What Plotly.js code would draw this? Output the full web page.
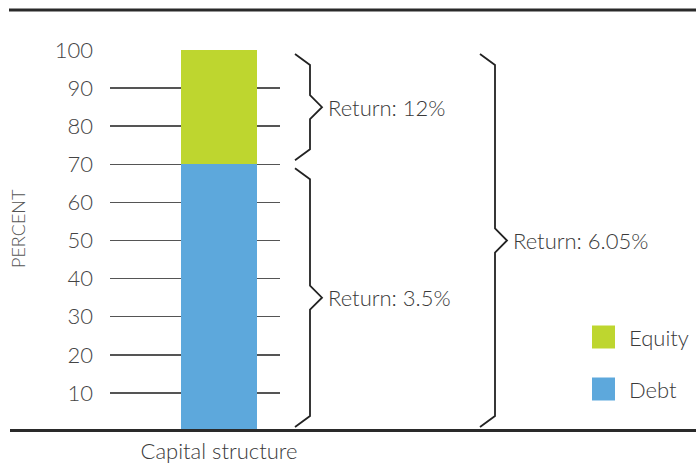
<!DOCTYPE html>
<html>
<head>
<meta charset="utf-8">
<script src="https://cdn.plot.ly/plotly-3.0.1.min.js"></script>
<style>html,body{margin:0;padding:0;background:#fff;}#chart{width:696px;height:465px;}</style>
</head>
<body>
<div id="chart"></div>
<script>
// ---- data ----
var category = ['Capital structure'];
var seriesNames = ['Debt', 'Equity'];
var debtValues = [70];
var equityValues = [30];
var returnLabels = ['Return: 3.5%', 'Return: 12%', 'Return: 6.05%'];
var yTicks = [10, 20, 30, 40, 50, 60, 70, 80, 90, 100];

// ---- layout constants (pixels) ----
var W = 696, H = 465;
var mL = 110, mR = 416, mT = 50, mB = 34;
var plotW = W - mL - mR, plotH = H - mT - mB;
var yMax = 100;
var pxPerUnit = plotH / yMax;
function px2paperX(px) { return (px - mL) / plotW; }
function px2paperY(py) { return (H - mB - py) / plotH; }
function pxLen2data(p) { return p / pxPerUnit; }

var fontFam = 'Lato, "Open Sans", sans-serif';
var txtCol = '#3a3a3a';
var colDebt = '#5DA8DC', colEquity = '#BED62F';

// brace path: data y-range [lo, hi], left x in pixels
function bracePath(lo, hi, xLeftPx) {
  var gap = pxLen2data(4), d = pxLen2data(11), d2 = pxLen2data(12);
  var xl = px2paperX(xLeftPx), xv = px2paperX(xLeftPx + 15), xt = px2paperX(xLeftPx + 27);
  var top = hi - gap, bot = lo + gap, mid = (lo + hi) / 2;
  return 'M' + xl + ',' + top + ' L' + xv + ',' + (top - d) + ' L' + xv + ',' + (mid + d2) +
         ' L' + xt + ',' + mid + ' L' + xv + ',' + (mid - d2) + ' L' + xv + ',' + (bot + d) +
         ' L' + xl + ',' + bot;
}

var debtTop = debtValues[0];
var totalTop = debtValues[0] + equityValues[0];
var braces = [
  {lo: debtTop, hi: totalTop, x: 295, label: returnLabels[1]},
  {lo: 0, hi: debtTop, x: 295, label: returnLabels[0]},
  {lo: 0, hi: totalTop, x: 480, label: returnLabels[2]}
];

var shapes = [];
var annotations = [];
braces.forEach(function (b) {
  shapes.push({type: 'path', xref: 'paper', yref: 'y', path: bracePath(b.lo, b.hi, b.x),
    line: {color: '#222', width: 1.8}});
  annotations.push({xref: 'paper', yref: 'y', x: px2paperX(b.x + 31), y: (b.lo + b.hi) / 2,
    xanchor: 'left', yanchor: 'middle', showarrow: false, text: b.label,
    font: {family: fontFam, size: 22, color: txtCol, weight: 300}});
});

// top rule and baseline
shapes.push({type: 'line', xref: 'paper', yref: 'paper', x0: px2paperX(9), x1: px2paperX(696),
  y0: px2paperY(10), y1: px2paperY(10), line: {color: '#2a2a2a', width: 3}});
shapes.push({type: 'line', xref: 'paper', yref: 'paper', x0: px2paperX(10), x1: px2paperX(696),
  y0: px2paperY(430.5), y1: px2paperY(430.5), line: {color: '#2a2a2a', width: 3}});

// legend (custom, larger swatches)
var legendItems = [{name: seriesNames[1], color: colEquity, cy: 337}, {name: seriesNames[0], color: colDebt, cy: 389}];
legendItems.forEach(function (it) {
  shapes.push({type: 'rect', xref: 'paper', yref: 'paper',
    x0: px2paperX(592), x1: px2paperX(615), y0: px2paperY(it.cy + 11.5), y1: px2paperY(it.cy - 11.5),
    fillcolor: it.color, line: {width: 0}});
  annotations.push({xref: 'paper', yref: 'paper', x: px2paperX(627), y: px2paperY(it.cy),
    xanchor: 'left', yanchor: 'middle', showarrow: false, text: it.name,
    font: {family: fontFam, size: 22, color: txtCol, weight: 300}});
});

// y-axis title
annotations.push({xref: 'paper', yref: 'paper', x: px2paperX(18), y: px2paperY(229),
  xanchor: 'center', yanchor: 'middle', showarrow: false, text: 'PERCENT', textangle: -90,
  font: {family: fontFam, size: 18, color: '#555', weight: 300}});

var traces = [
  {type: 'bar', x: category, y: debtValues, name: seriesNames[0], marker: {color: colDebt}, width: 1, hoverinfo: 'skip'},
  {type: 'bar', x: category, y: equityValues, name: seriesNames[1], marker: {color: colEquity}, width: 1, hoverinfo: 'skip'}
];

var layout = {
  width: W, height: H,
  margin: {l: mL, r: mR, t: mT, b: mB, pad: 0},
  paper_bgcolor: '#fff', plot_bgcolor: 'rgba(0,0,0,0)',
  barmode: 'stack', showlegend: false,
  font: {family: fontFam, color: txtCol},
  xaxis: {type: 'category', range: [-1.434, 0.803], showgrid: false, zeroline: false, showline: false,
    ticks: '', tickfont: {family: fontFam, size: 22, color: txtCol, weight: 300}, ticklabelstandoff: 5, fixedrange: true},
  yaxis: {range: [0, yMax], tickvals: yTicks, ticktext: yTicks.map(String), showgrid: true,
    gridcolor: '#555', gridwidth: 1.5, zeroline: false, showline: false, ticks: '',
    ticklabelstandoff: 16, tickfont: {family: fontFam, size: 22, color: '#444', weight: 300}, fixedrange: true},
  shapes: shapes,
  annotations: annotations
};

Plotly.newPlot('chart', traces, layout, {displayModeBar: false, staticPlot: true});
</script>
</body>
</html>
